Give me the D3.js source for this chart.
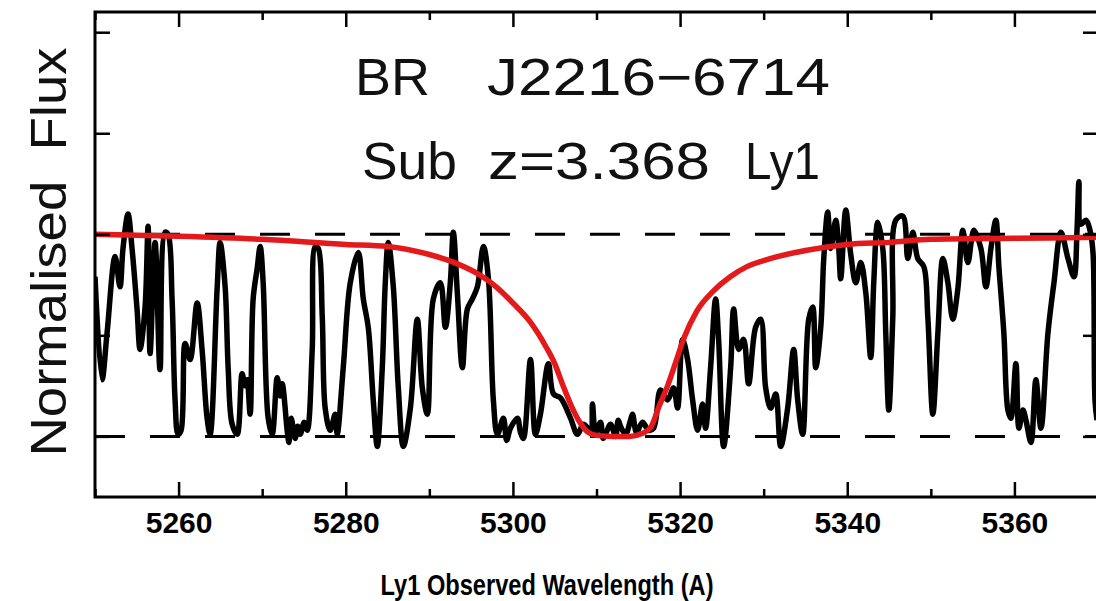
<!DOCTYPE html>
<html>
<head>
<meta charset="utf-8">
<script src="https://cdn.jsdelivr.net/npm/d3@7"></script>
<style>
  body { margin: 0; background: #fff; }
  svg { display: block; }
  text { font-family: "Liberation Sans", Arial, Helvetica, sans-serif; white-space: pre; }
</style>
</head>
<body>
<div id="chart"></div>
<script>
// observed spectrum (wavelength in A, normalised flux)
var wavelength = [5250.0, 5250.84, 5251.44, 5252.40, 5252.99, 5253.35, 5253.95, 5254.43, 5255.03, 5255.39,
  5255.99, 5256.35, 5256.59, 5257.19, 5257.78, 5258.38, 5258.74, 5259.22, 5259.58, 5259.94,
  5260.30, 5260.78, 5261.38, 5262.22, 5262.81, 5263.41, 5263.77, 5264.61, 5264.97, 5265.57,
  5265.93, 5266.41, 5267.01, 5267.60, 5267.96, 5268.20, 5268.56, 5268.92, 5269.40, 5269.76,
  5270.12, 5270.72, 5271.20, 5271.80, 5272.16, 5272.40, 5272.99, 5273.20, 5273.47, 5273.95,
  5274.25, 5274.55, 5275.03, 5275.39, 5275.99, 5276.35, 5276.71, 5277.19, 5277.54, 5278.14,
  5278.74, 5278.98, 5279.70, 5280.54, 5281.50, 5282.10, 5282.69, 5283.29, 5283.77, 5284.37,
  5284.73, 5285.09, 5285.69, 5286.29, 5286.89, 5287.73, 5288.56, 5289.16, 5289.76, 5290.48,
  5291.32, 5291.92, 5292.51, 5292.87, 5293.35, 5293.95, 5294.55, 5295.15, 5295.75, 5296.47,
  5297.07, 5297.66, 5298.14, 5298.86, 5299.25, 5299.70, 5300.54, 5300.90, 5301.26, 5302.10,
  5302.69, 5303.29, 5304.25, 5304.85, 5305.69, 5306.89, 5307.72, 5308.44, 5309.28, 5309.52,
  5309.88, 5310.48, 5310.78, 5311.08, 5311.68, 5312.28, 5312.60, 5312.87, 5313.47, 5314.07,
  5314.31, 5314.79, 5315.51, 5316.23, 5316.83, 5317.66, 5318.50, 5319.22, 5319.70, 5320.30,
  5320.90, 5321.50, 5322.10, 5322.69, 5323.05, 5323.65, 5324.25, 5324.61, 5325.21, 5326.05,
  5326.41, 5327.01, 5327.60, 5328.20, 5329.04, 5329.64, 5330.24, 5330.84, 5331.44, 5332.04,
  5332.87, 5333.59, 5334.07, 5334.67, 5335.39, 5335.87, 5336.23, 5336.83, 5337.19, 5337.66,
  5338.02, 5338.62, 5338.98, 5339.22, 5339.82, 5340.42, 5341.02, 5341.62, 5342.22, 5342.81,
  5343.17, 5343.65, 5344.25, 5344.61, 5344.97, 5345.45, 5345.81, 5346.65, 5347.25, 5347.84,
  5348.44, 5349.16, 5349.64, 5350.24, 5350.84, 5351.44, 5352.04, 5352.63, 5353.23, 5353.83,
  5354.43, 5355.15, 5355.99, 5356.59, 5357.19, 5357.78, 5358.14, 5358.74, 5359.22, 5359.58,
  5360.18, 5360.54, 5361.02, 5361.38, 5361.98, 5362.57, 5363.17, 5364.01, 5364.73, 5365.57,
  5366.41, 5367.13, 5367.49, 5367.72, 5367.96, 5368.56, 5369.04, 5369.40, 5369.64, 5369.88];
var flux = [0.79, 0.28, 0.51, 0.89, 0.74, 0.93, 1.10, 0.93, 0.63, 0.43,
  0.64, 1.04, 0.41, 0.96, 0.33, 1.01, 1.00, 0.68, 0.18, 0.01,
  0.03, 0.46, 0.38, 0.66, 0.43, 0.09, 0.01, 0.73, 0.96, 0.74,
  0.34, 0.06, 0.01, 0.31, 0.25, 0.28, 0.11, 0.68, 0.83, 0.94,
  0.76, 0.09, 0.01, 0.29, 0.20, 0.26, 0.03, -0.03, 0.09, -0.01,
  0.05, 0.01, 0.07, 0.03, 0.43, 0.94, 0.93, 0.59, 0.14, 0.03,
  0.11, 0.01, 0.34, 0.76, 0.91, 0.68, 0.54, 0.18, -0.05, 0.34,
  0.76, 0.96, 0.74, 0.24, -0.05, 0.14, 0.58, 0.24, 0.11, 0.68,
  0.76, 0.54, 0.76, 1.01, 0.71, 0.34, 0.63, 0.68, 0.74, 0.94,
  0.78, 0.18, 0.01, 0.09, -0.02, 0.04, 0.09, 0.02, -0.01, 0.38,
  0.01, 0.11, 0.36, 0.21, 0.19, 0.09, 0.01, 0.06, 0.03, 0.16,
  0.02, 0.07, -0.01, 0.01, 0.06, 0.00, 0.08, 0.05, 0.01, 0.08,
  0.11, 0.02, 0.07, 0.03, 0.04, 0.23, 0.18, 0.24, 0.14, 0.48,
  0.38, 0.18, 0.03, 0.16, 0.04, 0.34, 0.68, 0.48, -0.05, 0.34,
  0.63, 0.43, 0.48, 0.26, 0.54, 0.58, 0.24, 0.14, 0.21, -0.05,
  0.14, 0.43, 0.18, 0.01, 0.58, 0.64, 0.34, 0.54, 0.88, 1.11,
  0.93, 1.07, 0.93, 0.78, 1.12, 0.90, 0.76, 0.86, 0.71, 0.39,
  0.76, 1.06, 0.93, 0.51, 0.13, 0.59, 1.07, 1.09, 0.88, 1.01,
  0.88, 0.84, 0.59, 0.11, 0.51, 0.88, 0.76, 0.58, 0.73, 1.02,
  0.86, 1.02, 0.93, 0.74, 0.93, 1.07, 0.84, 0.51, 0.13, 0.09,
  0.36, 0.04, 0.13, 0.08, -0.03, 0.28, 0.04, 0.51, 0.76, 1.01,
  0.88, 0.79, 1.02, 1.26, 1.05, 1.07, 1.02, 0.91, 0.18, 0.08];

// damped Lyman alpha fit (red)
var fitWavelength = [5250, 5260, 5270, 5280, 5285, 5290, 5293, 5296, 5298, 5300,
  5302, 5304, 5305, 5306, 5307, 5308, 5309, 5310, 5312, 5314,
  5315.5, 5316.5, 5317.5, 5318.5, 5319.5, 5320.5, 5322, 5324, 5326, 5328,
  5330, 5335, 5340, 5345, 5350, 5360, 5370];
var fitFlux = [1.00, 0.99, 0.975, 0.95, 0.94, 0.90, 0.86, 0.80, 0.74, 0.66,
  0.57, 0.44, 0.36, 0.25, 0.15, 0.07, 0.02, 0.005, 0.0, 0.0,
  0.015, 0.045, 0.15, 0.25, 0.37, 0.49, 0.62, 0.72, 0.79, 0.84,
  0.87, 0.92, 0.95, 0.96, 0.975, 0.98, 0.985];

var majorTicks = [5260, 5280, 5300, 5320, 5340, 5360];
var minorTicks = [5250, 5270, 5290, 5310, 5330, 5350, 5370];
var fluxTicks = [0, 0.5, 1, 1.5, 2];
var guideLevels = [0, 1];

var titleWords = [["BR", "J2216\u22126714"], ["Sub", "z=3.368", "Ly1"]];

// set the dimensions and margins of the graph
var fullWidth = 1096, fullHeight = 601;
var margin = {top: 12, left: 95, bottom: 104, right: -2};
var width = fullWidth - margin.left - margin.right,
    height = fullHeight - margin.top - margin.bottom;

var x = d3.scaleLinear().domain([5250, 5370]).range([0, width]);
var y = d3.scaleLinear().domain([-0.3, 2.1]).range([height, 0]);

var svg = d3.select("#chart").append("svg")
    .attr("width", fullWidth)
    .attr("height", fullHeight)
  .append("g")
    .attr("transform", `translate(${margin.left},${margin.top})`);

svg.append("clipPath").attr("id", "plotclip")
  .append("rect").attr("width", width).attr("height", height);

var plot = svg.append("g").attr("clip-path", "url(#plotclip)");

// dashed continuum and zero levels
plot.selectAll(".guide")
    .data(guideLevels)
    .enter().append("line")
    .attr("class", "guide")
    .attr("x1", 0).attr("x2", width)
    .attr("y1", function(d) { return y(d); })
    .attr("y2", function(d) { return y(d); })
    .attr("stroke", "#000")
    .attr("stroke-width", 3)
    .attr("stroke-dasharray", "30,25");

var spectrum = wavelength.map(function(w, i) { return [w, flux[i]]; });
var fit = fitWavelength.map(function(w, i) { return [w, fitFlux[i]]; });

plot.append("path")
    .datum(spectrum)
    .attr("fill", "none")
    .attr("stroke", "#000")
    .attr("stroke-width", 5.5)
    .attr("stroke-linejoin", "round")
    .attr("d", d3.line()
      .curve(d3.curveCatmullRom.alpha(0.5))
      .x(function(d) { return x(d[0]); })
      .y(function(d) { return y(d[1]); }));

plot.append("path")
    .datum(fit)
    .attr("fill", "none")
    .attr("stroke", "#e3191c")
    .attr("stroke-width", 5.5)
    .attr("d", d3.line()
      .curve(d3.curveMonotoneX)
      .x(function(d) { return x(d[0]); })
      .y(function(d) { return y(d[1]); }));

// axes, ticks pointing inward
function styleAxis(g) {
  g.select(".domain").remove();
  g.selectAll(".tick line").attr("stroke", "#000").attr("stroke-width", 2.5);
}

svg.append("g")
    .attr("transform", `translate(0,${height})`)
    .call(d3.axisBottom(x).tickValues(majorTicks).tickSize(-15).tickPadding(15).tickFormat(d3.format("d")))
    .call(styleAxis)
    .selectAll("text")
    .attr("fill", "#000")
    .style("font-size", "30px")
    .style("font-weight", "bold");

svg.append("g")
    .attr("transform", `translate(0,${height})`)
    .call(d3.axisBottom(x).tickValues(minorTicks).tickSize(-8).tickFormat(""))
    .call(styleAxis);

svg.append("g")
    .call(d3.axisTop(x).tickValues(majorTicks).tickSize(-15).tickFormat(""))
    .call(styleAxis);

svg.append("g")
    .call(d3.axisTop(x).tickValues(minorTicks).tickSize(-8).tickFormat(""))
    .call(styleAxis);

svg.append("g")
    .call(d3.axisLeft(y).tickValues(fluxTicks).tickSize(-15).tickFormat(""))
    .call(styleAxis);

svg.append("g")
    .attr("transform", `translate(${width},0)`)
    .call(d3.axisRight(y).tickValues(fluxTicks).tickSize(-15).tickFormat(""))
    .call(styleAxis);

// frame
svg.append("rect")
    .attr("width", width)
    .attr("height", height)
    .attr("fill", "none")
    .attr("stroke", "#000")
    .attr("stroke-width", 3);

// title words inside the plot (left edge and width of each word)
var titleLayout = [[[260, 75], [392, 343]], [[267, 95], [393, 222], [650, 75]]];
titleWords.forEach(function(words, line) {
  words.forEach(function(word, k) {
    svg.append("text")
        .attr("x", titleLayout[line][k][0])
        .attr("y", 83 + line * 84)
        .attr("textLength", titleLayout[line][k][1])
        .attr("lengthAdjust", "spacingAndGlyphs")
        .style("font-size", "52px")
        .attr("fill", "#111")
        .text(word);
  });
});

// axis labels
svg.append("text")
    .attr("x", 452)
    .attr("y", 583)
    .attr("text-anchor", "middle")
    .attr("textLength", 333)
    .attr("lengthAdjust", "spacingAndGlyphs")
    .style("font-size", "29px")
    .style("font-weight", "bold")
    .text("Ly1 Observed Wavelength (A)");

svg.append("text")
    .attr("transform", "rotate(-90)")
    .attr("x", -(252 - margin.top))
    .attr("y", -29)
    .attr("text-anchor", "middle")
    .attr("textLength", 409)
    .attr("lengthAdjust", "spacingAndGlyphs")
    .style("font-size", "50px")
    .attr("fill", "#111")
    .text("Normalised  Flux");
</script>
</body>
</html>
